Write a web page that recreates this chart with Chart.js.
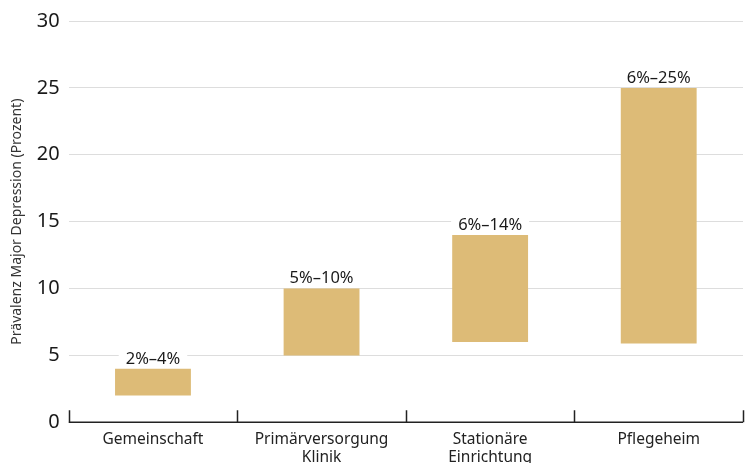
<!DOCTYPE html>
<html>
<head>
<meta charset="utf-8">
<script src="https://cdn.jsdelivr.net/npm/chart.js@4/dist/chart.umd.min.js"></script>
<style>
  html, body { margin: 0; padding: 0; background: #fff; overflow: hidden; }
  #wrap { width: 752px; height: 466px; }
</style>
</head>
<body>
<div id="wrap"><canvas id="chart" width="752" height="466"></canvas></div>
<script>
// Daten
const categories = [["Gemeinschaft"], ["Primärversorgung", "Klinik"], ["Stationäre", "Einrichtung"], ["Pflegeheim"]];
const lowValues = [2, 5, 6, 5.9];
const highValues = [4, 10, 14, 25];
const rangeLabels = ["2%–4%", "5%–10%", "6%–14%", "6%–25%"];
const yTicks = [0, 5, 10, 15, 20, 25, 30];

const FONT = "'Noto Sans', 'Open Sans', sans-serif";

// Beschriftung über den Balken mit weißem Hintergrund
const rangeLabelPlugin = {
  id: "rangeLabels",
  afterDatasetsDraw(chart) {
    const ctx = chart.ctx;
    const meta = chart.getDatasetMeta(0);
    ctx.save();
    ctx.font = "16.5px " + FONT;
    ctx.textAlign = "center";
    ctx.textBaseline = "middle";
    meta.data.forEach((bar, i) => {
      const text = rangeLabels[i];
      const w = ctx.measureText(text).width;
      const cy = bar.y - 10;
      ctx.fillStyle = "#fff";
      ctx.fillRect(bar.x - w / 2 - 7, cy - 9, w + 14, 18);
      ctx.fillStyle = "#1a1a1a";
      ctx.fillText(text, bar.x, cy);
    });
    ctx.restore();
  }
};

// Achsenstriche zwischen den Kategorien (nach oben)
const axisTickPlugin = {
  id: "axisTicks",
  afterDraw(chart) {
    const ctx = chart.ctx;
    const x = chart.scales.x;
    const area = chart.chartArea;
    const n = categories.length;
    const pos = [area.left];
    for (let i = 1; i < n; i++) {
      pos.push((x.getPixelForValue(i - 1) + x.getPixelForValue(i)) / 2);
    }
    pos.push(area.right);
    ctx.save();
    ctx.strokeStyle = "#222";
    ctx.lineWidth = 1.5;
    ctx.beginPath();
    ctx.moveTo(area.left, area.bottom);
    ctx.lineTo(area.right, area.bottom);
    pos.forEach(p => {
      const px = Math.round(p) + 0.5;
      ctx.moveTo(px, area.bottom);
      ctx.lineTo(px, area.bottom - 12);
    });
    ctx.stroke();
    ctx.restore();
  }
};

new Chart(document.getElementById("chart"), {
  type: "bar",
  data: {
    labels: categories,
    datasets: [{
      data: lowValues.map((lo, i) => [lo, highValues[i]]),
      backgroundColor: "#ddbb77",
      borderWidth: 0,
      borderSkipped: false,
      barPercentage: 0.45,
      categoryPercentage: 1.0
    }]
  },
  options: {
    responsive: false,
    devicePixelRatio: 1,
    animation: false,
    layout: { padding: { top: 12, right: 9, left: 9, bottom: 0 } },
    plugins: {
      legend: { display: false },
      tooltip: { enabled: false }
    },
    scales: {
      x: {
        grid: { display: false },
        border: { display: false },
        ticks: {
          color: "#222",
          font: { family: FONT, size: 15.5, lineHeight: 1.15 },
          padding: 0,
          maxRotation: 0
        }
      },
      y: {
        min: 0,
        max: 30,
        afterBuildTicks: axis => { axis.ticks = yTicks.map(v => ({ value: v })); },
        grid: { color: "#dddddd", lineWidth: 1, drawTicks: false },
        border: { display: false },
        ticks: {
          color: "#1a1a1a",
          font: { family: FONT, size: 20 },
          padding: 9
        },
        title: {
          display: true,
          text: "Prävalenz Major Depression (Prozent)",
          color: "#333",
          font: { family: FONT, size: 14 },
          padding: { top: 0, bottom: 2 }
        }
      }
    }
  },
  plugins: [rangeLabelPlugin, axisTickPlugin]
});
</script>
</body>
</html>
